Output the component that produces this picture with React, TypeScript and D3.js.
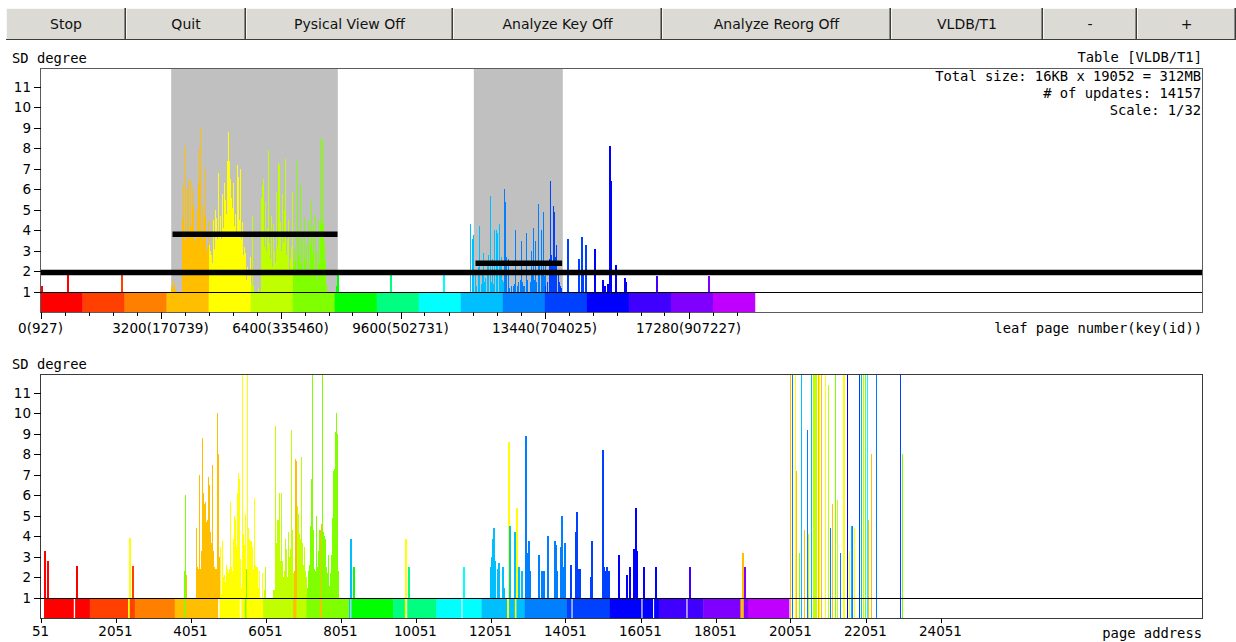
import React from "react";
import * as d3 from "d3";

// ---- data ----

const totalPages = 19052;
const bandCount = 17;
const pagesPerPx = 3200 / 120; // view scale 1/32

const buttonLabels = ["Stop", "Quit", "Pysical View Off", "Analyze Key Off", "Analyze Reorg Off", "VLDB/T1", "-", "+"];

const infoLines = ["Total size: 16KB x 19052 = 312MB", "# of updates: 14157", "Scale: 1/32"];

const keyTickPages = [0, 3200, 6400, 9600, 13440, 17280];
const keyTickIds = [927, 170739, 335460, 502731, 704025, 907227];
const keyMinorStep = 640;

const yTicks = [1, 2, 3, 4, 5, 6, 7, 8, 9, 10, 11];

// SD degree of leaf pages in key order, one value per screen column
const keyClusterAStart = 3493;
const keyClusterAValues = [
  1.3, 1.6, 1.2, 1.4, 1.1, 0, 0, 0, 0, 0, 0,
  4.5, 6.2, 3.5, 8.1, 3.8, 6.0, 6.5, 3.9, 6.4, 4.2, 6.0, 5.2, 3.6, 3.5, 5.0, 3.8, 6.3, 8.0, 9.0, 4.0, 5.2, 3.5, 4.7, 7.0, 3.2,
  3.0, 4.5, 3.3, 3.0, 2.8, 2.4, 4.5, 3.1, 5.0, 4.6, 3.6, 6.8, 3.9, 4.7, 3.6, 5.8, 4.1, 6.3, 5.5, 4.8, 7.4, 8.8, 7.4, 6.5,
  5.6, 5.1, 6.3, 4.2, 4.8, 3.9, 7.2, 6.6, 4.5, 7.0, 3.6, 4.4, 2.8, 3.2, 2.9, 1.6, 2.2, 2.0, 1.8, 2.7, 1.4, 4.7,
  1.3, 0, 0, 0, 0, 1.2, 0, 0,
  5.6, 6.2, 6.5, 3.2, 5.4, 3.0, 4.1, 7.9, 3.4, 2.6, 4.7, 2.2, 4.3, 3.0, 2.4, 5.9, 3.2, 7.3, 7.2, 4.4, 3.0, 5.8, 3.4, 5.0,
  7.5, 2.8, 3.6, 4.5, 2.1, 2.6, 3.2, 5.9, 2.2,
  3.1, 2.5, 2.0, 7.4, 4.0, 2.8, 6.2, 2.4, 3.6, 2.0, 4.6, 2.6, 3.3, 1.8, 4.5, 2.1, 3.4, 5.5, 2.9, 4.2, 2.0, 4.8, 3.0, 1.6,
  4.5, 2.4, 8.5, 4.4, 8.4, 4.3, 3.4, 2.5, 1.4,
  0, 0, 0, 0, 0, 0, 0, 0, 0,
  1.3, 0,
];

const keyClusterBStart = 11440;
const keyClusterBValues = [
  4.3, 3.2, 3.6, 2.4, 3.8, 1.6, 1.9, 1.3, 2.2, 4.2,
  3.3, 1.4, 2.0, 2.9, 1.5, 1.3, 1.7, 2.4, 2.8, 2.6,
  5.7, 1.5, 2.6, 1.4, 4.0, 2.2, 4.0, 1.8, 3.9, 4.3,
  2.5, 2.7, 1.6, 1.5, 6.0, 5.4, 2.8, 2.7, 2.6, 1.2,
  0, 1.3, 0, 1.3, 1.2, 1.4, 4.0, 1.3, 1.5, 1.2,
  1.6, 3.5, 1.5, 1.3, 0, 1.3, 3.9, 1.6, 1.4, 0,
  1.5, 3.0, 2.0, 4.1, 1.6, 3.5, 1.3, 1.5, 1.7, 5.3,
  2.5, 4.0, 2.0, 4.9, 1.8, 2.5, 1.3, 1.2, 1.5, 2.6,
  6.4, 2.8, 2.5, 5.2, 4.9, 2.7, 3.3, 2.5, 2.0, 1.5,
  1.3, 1.2, 0, 0,
];

// [leaf page, SD degree]
const keyScatter = [
  [19, 1.3], [712, 1.9], [2152, 1.9], [7912, 1.9], [9315, 1.9], [10728, 1.9],
  [14027, 2.6], [14053, 3.6], [14339, 2.6], [14400, 3.7], [14445, 1.9], [14515, 3.3],
  [14755, 3.1], [14979, 1.6], [15021, 1.3], [15112, 1.4], [15155, 8.1], [15181, 6.4],
  [15307, 2.3], [15555, 1.7], [15592, 1.5], [16400, 1.8], [17805, 1.8],
];

// analysed hot ranges [from page, to page] and their mean SD [from, to, mean]
const hotRanges = [[3485, 7928], [11555, 13928]];
const meanLines = [[0, 31000, 1.95], [3520, 7920, 3.82], [11600, 13910, 2.4]];

// physical layout: [from address, to address, key band] (-1 = free page)
const addrStrip = [
  [51, 147, -1], [147, 939, 0], [939, 974, -1], [974, 1366, 0], [1366, 2387, 1], [2387, 2432, 4],
  [2432, 2566, 1], [2566, 3632, 2], [3632, 3872, 3], [3872, 3918, 6], [3918, 4787, 3], [4787, 4832, -1],
  [4832, 5366, 4], [5366, 5411, -1], [5411, 5499, 4], [5499, 5544, 6], [5544, 5987, 4], [5987, 6787, 5],
  [6787, 6877, 3], [6877, 7144, 5], [7144, 7499, 6], [7499, 7552, 3], [7552, 8280, 6], [8280, 8318, 10],
  [8318, 8345, -1], [8345, 9454, 7], [9454, 9766, 8], [9766, 9811, 4], [9811, 9830, -1], [9830, 10611, 8],
  [10611, 11278, 9], [11278, 11304, -1], [11304, 11811, 9], [11811, 12494, 10], [12494, 12547, 4],
  [12547, 12699, 10], [12699, 12744, 4], [12744, 12965, 10], [12965, 14078, 11], [14078, 14211, 12],
  [14211, 14240, -1], [14240, 15234, 12], [15234, 16078, 13], [16078, 16105, -1], [16105, 16387, 13],
  [16387, 16414, -1], [16414, 16539, 13], [16539, 17278, 14], [17278, 17305, -1], [17305, 17721, 14],
  [17721, 18718, 15], [18718, 18806, 3], [18806, 18913, 15], [18913, 20013, 16],
];

const addrTicks = [51, 2051, 4051, 6051, 8051, 10051, 12051, 14051, 16051, 18051, 20051, 22051, 24051];

// SD degree by physical address, one value per screen column
const addrClusterStart = 3872;
const addrClusterValues = [
  2.3, 6.0, 2.1, 0, 0, 0, 0, 0, 0, 0,
  0, 0, 4.4, 2.5, 2.4, 7.0, 2.4, 3.3, 8.8, 6.1,
  5.6, 5.7, 4.7, 4.8, 6.9, 6.5, 4.2, 3.7, 7.5, 3.3,
  2.5, 2.4, 2.4, 10.0, 8.0, 3.0, 3.5, 1.2, 3.8, 2.0,
  2.1, 1.8, 2.6, 2.4, 2.2, 2.4, 5.7, 2.5, 2.3, 3.9,
  5.0, 4.8, 3.5, 6.1, 7.1, 6.8, 2.9, 1.5, 12, 4.1,
  3.6, 5.1, 2.4, 12, 4.4, 3.9, 3.8, 3.8, 3.5, 2.4,
  5.9, 2.6, 2.5, 2.5, 1.5, 2.3, 0, 0, 2.2, 0,
  1.4, 2.5, 0, 0, 0, 0, 0, 0, 0, 1.4,
  1.4, 9.4, 3.7, 4.8, 4.8, 6.1, 2.8, 6.1, 2.8, 2.0,
  2.3, 3.9, 3.4, 2.0, 4.2, 3.0, 3.4, 9.2, 4.3, 2.2,
  2.3, 7.8, 7.7, 5.5, 5.1, 4.1, 3.9, 7.9, 3.7, 2.6,
  3.5, 2.3, 2.0, 1.5, 2.3, 2.6, 4.5, 6.8, 12, 4.3,
  2.4, 2.3, 5.0, 2.5, 3.3, 4.3, 4.3, 4.6, 12, 4.2,
  4.0, 3.9, 2.5, 2.2, 3.1, 1.6, 2.2, 3.1, 4.9, 7.2,
  7.3, 9.1, 10.0, 9.0, 2.3, 0, 0,
];

// [address, SD degree]
const addrScatter = [
  [152, 3.3], [227, 2.8], [992, 2.55], [2406, 3.95], [2478, 2.55], [8291, 3.9], [8380, 2.5],
  [9780, 3.9], [9840, 2.5], [11315, 2.5],
  [12032, 2.5], [12059, 3.0], [12086, 3.9], [12112, 4.4], [12139, 2.8], [12227, 2.4], [12264, 2.7],
  [12360, 2.5], [12387, 1.5], [12520, 8.6], [12555, 4.5], [12680, 4.2], [12726, 5.4], [12771, 2.5],
  [12859, 2.3], [12974, 8.9], [13001, 3.2], [13038, 3.8], [13073, 2.3], [13331, 3.1], [13385, 2.3],
  [13454, 2.3], [13545, 4.0], [13740, 3.8], [13774, 3.6], [13811, 2.3], [13899, 3.5], [13934, 5.0],
  [13971, 2.5], [13998, 3.7], [14024, 2.1], [14184, 2.6], [14291, 4.2], [14318, 4.3], [14344, 5.2],
  [14387, 2.4], [14414, 2.4], [14707, 2.0], [14734, 3.8], [15019, 8.2], [15046, 2.5], [15073, 2.3],
  [15144, 2.5], [15179, 2.3], [15446, 3.1], [15667, 2.1], [15731, 2.5], [15864, 3.4], [15891, 5.4],
  [15918, 3.3], [16130, 2.5], [16440, 2.5], [17331, 2.5], [18745, 3.2], [18820, 2.5],
];

// newly appended pages: [address, SD degree, key band]
const addrAppended = [
  [20051, 12, 3], [20078, 12, 11], [20158, 3.2, 4], [20184, 12, 4], [20211, 7.2, 3], [20280, 3.2, 6],
  [20318, 12, 10], [20344, 3.6, 10], [20406, 4.3, 3], [20478, 9.2, 11], [20531, 4.1, 5], [20600, 12, 10],
  [20638, 12, 5], [20673, 12, 5], [20708, 12, 5], [20744, 12, 5], [20780, 12, 3], [20815, 12, 4],
  [20851, 12, 3], [20984, 12, 4], [21046, 11.4, 5], [21107, 4.4, 11], [21160, 5.6, 3], [21232, 12, 6],
  [21294, 5.8, 5], [21366, 3.2, 11], [21438, 12, 4], [21472, 12, 4], [21560, 12, 13], [21614, 3.3, 4],
  [21667, 4.5, 10], [21704, 4.5, 11], [21747, 4.4, 4], [21880, 12, 12], [21934, 12, 10], [21987, 12, 5],
  [22040, 12, 6], [22078, 12, 9], [22131, 4.8, 3], [22192, 8.0, 3], [22326, 12, 11], [22966, 12, 12],
  [23027, 8.0, 6],
];

// ---- styling ----

const bandColors = [
  "#ff0000", "#ff4000", "#ff8000", "#ffbf00", "#ffff00", "#bfff00", "#80ff00", "#00ff00", "#00ff80",
  "#00ffff", "#00bfff", "#0080ff", "#0040ff", "#0000ff", "#4000ff", "#8000ff", "#bf00ff",
];
const buttonEdges = [6, 126, 246, 453, 662, 891, 1043, 1137, 1236];

const W = 1236;
const H = 642;
const L = 40.5;
const R = 1202.5;
const yMax = 11.9;
const mono = "'DejaVu Sans Mono', monospace";
const sans = "'DejaVu Sans', sans-serif";

const keyX = d3.scaleLinear().domain([0, (R - L) * pagesPerPx]).range([L, R]);
const addrX = d3.scaleLinear().domain([51, 51 + (R - L) * pagesPerPx]).range([L, R]);
const topY = d3.scaleLinear().domain([0, yMax]).range([312.5, 68.5]);
const botY = d3.scaleLinear().domain([0, yMax]).range([618.5, 374.5]);

const bandSize = totalPages / bandCount;
const bandOf = (p: number) => Math.min(bandCount - 1, Math.floor(p / bandSize));
const stripBandAt = (a: number) => {
  let band = 0;
  for (const [s, e, b] of addrStrip) {
    if (b >= 0 && a >= s) band = b;
    if (a >= s && a < e) break;
  }
  return band;
};

const columns = (start: number, values: number[]) =>
  values.map((v, i) => [start + i * pagesPerPx, v]).filter((d) => d[1] > 0);

const Bar = ({ x, v, y, color, w = 1 }: any) => {
  const top = y(Math.min(v, yMax));
  return (
    <rect x={Math.round(x)} y={top} width={w} height={y(0) - top} fill={color} shapeRendering="crispEdges" />
  );
};

const YAxis = ({ y }: any) => (
  <g>
    {yTicks.map((t) => (
      <g key={t}>
        <line x1={34} x2={L} y1={Math.round(y(t)) + 0.5} y2={Math.round(y(t)) + 0.5} stroke="#000" shapeRendering="crispEdges" />
        <text x={31} y={y(t) + 5} textAnchor="end" fontFamily={sans} fontSize={13.5} fill="#000">
          {t}
        </text>
      </g>
    ))}
  </g>
);

export default function App() {
  const keyColumns = [
    ...columns(keyClusterAStart, keyClusterAValues),
    ...columns(keyClusterBStart, keyClusterBValues),
  ];
  const addrColumns = columns(addrClusterStart, addrClusterValues);
  const keyMinor = d3.range(0, totalPages, keyMinorStep);
  const line1Top = Math.round(topY(1)) + 0.5;
  const line1Bot = Math.round(botY(1)) + 0.5;

  return (
    <svg width={W} height={H} style={{ position: "absolute", left: 0, top: 0, background: "#fff" }}>
      {/* toolbar */}
      {buttonLabels.map((label, i) => {
        const x0 = buttonEdges[i];
        const x1 = buttonEdges[i + 1];
        return (
          <g key={label + i}>
            <rect x={x0} y={8} width={x1 - x0} height={32} fill="#dcdad5" />
            <line x1={x0 + 0.5} x2={x0 + 0.5} y1={8} y2={40} stroke="#f7f7f5" />
            <line x1={x0} x2={x1} y1={8.5} y2={8.5} stroke="#f7f7f5" />
            <line x1={x1 - 1.5} x2={x1 - 1.5} y1={8} y2={40} stroke="#8a8a86" />
            <line x1={x1 - 0.5} x2={x1 - 0.5} y1={8} y2={40} stroke="#3c3c3c" />
            <line x1={x0} x2={x1} y1={39.5} y2={39.5} stroke="#3c3c3c" />
            <text x={(x0 + x1) / 2} y={29} textAnchor="middle" fontFamily={sans} fontSize={14} fill="#111">
              {label}
            </text>
          </g>
        );
      })}

      {/* ---- key order panel ---- */}
      <text x={12} y={63} fontFamily={mono} fontSize={13.8} fill="#000">SD degree</text>
      <text x={1202} y={62} textAnchor="end" fontFamily={mono} fontSize={13.8} fill="#000">Table [VLDB/T1]</text>
      {hotRanges.map(([a, b], i) => (
        <rect key={i} x={keyX(a)} y={topY(yMax)} width={keyX(b) - keyX(a)} height={topY(1) - topY(yMax)} fill="#c0c0c0" />
      ))}
      {keyColumns.map(([p, v], i) => (
        <Bar key={i} x={keyX(p)} v={v} y={topY} color={bandColors[bandOf(p)]} />
      ))}
      {keyScatter.map(([p, v], i) => (
        <Bar key={"s" + i} x={keyX(p)} v={v} y={topY} w={2} color={bandColors[bandOf(p)]} />
      ))}
      {bandColors.map((c, i) => (
        <rect
          key={i}
          x={keyX(i * bandSize)}
          y={topY(1)}
          width={keyX((i + 1) * bandSize) - keyX(i * bandSize) + 0.3}
          height={topY(0) - topY(1)}
          fill={c}
        />
      ))}
      <line x1={L} x2={R} y1={line1Top} y2={line1Top} stroke="#000" />
      {meanLines.map(([a, b, m], i) => (
        <line key={i} x1={Math.max(L, keyX(a))} x2={Math.min(R, keyX(b))} y1={topY(m)} y2={topY(m)} stroke="#000" strokeWidth={5.5} />
      ))}
      <rect x={L} y={68.5} width={R - L} height={312.5 - 68.5} fill="none" stroke="#5c5c5c" />
      <YAxis y={topY} />
      {infoLines.map((t, i) => (
        <text key={i} x={1201} y={81 + i * 17} textAnchor="end" fontFamily={mono} fontSize={13.8} fill="#000">
          {t}
        </text>
      ))}
      {keyMinor.map((p) => (
        <line key={p} x1={Math.round(keyX(p)) + 0.5} x2={Math.round(keyX(p)) + 0.5} y1={312.5} y2={316} stroke="#000" />
      ))}
      {keyTickPages.map((p, i) => (
        <g key={p}>
          <line x1={Math.round(keyX(p)) + 0.5} x2={Math.round(keyX(p)) + 0.5} y1={312.5} y2={319} stroke="#000" />
          <text x={keyX(p)} y={333} textAnchor="middle" fontFamily={sans} fontSize={13.5} fill="#000">
            {`${p}(${keyTickIds[i]})`}
          </text>
        </g>
      ))}
      <text x={1202} y={333} textAnchor="end" fontFamily={mono} fontSize={13.8} fill="#000">leaf page number(key(id))</text>

      {/* ---- physical address panel ---- */}
      <text x={12} y={369} fontFamily={mono} fontSize={13.8} fill="#000">SD degree</text>
      {addrColumns.map(([a, v], i) => (
        <Bar key={i} x={addrX(a)} v={v} y={botY} color={bandColors[stripBandAt(a)]} />
      ))}
      {addrScatter.map(([a, v], i) => (
        <Bar key={"s" + i} x={addrX(a)} v={v} y={botY} w={2} color={bandColors[stripBandAt(a)]} />
      ))}
      {addrAppended.map(([a, v, b], i) => (
        <Bar key={"n" + i} x={addrX(a)} v={v} y={botY} w={1} color={bandColors[b]} />
      ))}
      {addrStrip.map(([s, e, b], i) => (
        <rect
          key={i}
          x={addrX(s)}
          y={botY(1)}
          width={addrX(e) - addrX(s) + (b >= 0 ? 0.3 : 0)}
          height={botY(0) - botY(1)}
          fill={b >= 0 ? bandColors[b] : "#ffffff"}
        />
      ))}
      <line x1={L} x2={R} y1={line1Bot} y2={line1Bot} stroke="#000" />
      <rect x={L} y={374.5} width={R - L} height={618.5 - 374.5} fill="none" stroke="#3a3a3a" />
      <YAxis y={botY} />
      {addrTicks.map((a) => (
        <g key={a}>
          <line x1={Math.round(addrX(a)) + 0.5} x2={Math.round(addrX(a)) + 0.5} y1={618.5} y2={623} stroke="#000" />
          <text x={addrX(a)} y={636} textAnchor="middle" fontFamily={sans} fontSize={13.5} fill="#000">
            {a}
          </text>
        </g>
      ))}
      <text x={1202} y={638} textAnchor="end" fontFamily={mono} fontSize={13.8} fill="#000">page address</text>
    </svg>
  );
}
